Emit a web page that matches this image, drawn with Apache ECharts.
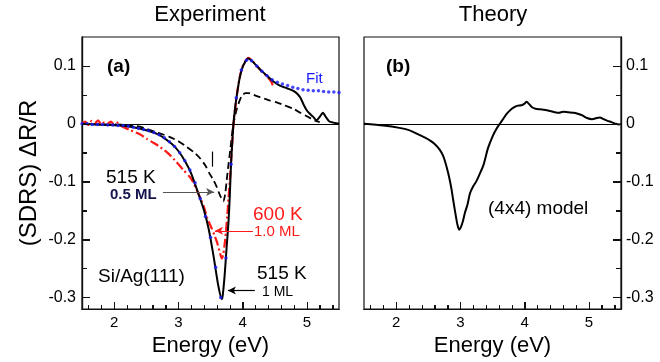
<!DOCTYPE html>
<html><head><meta charset="utf-8">
<script src="https://cdn.jsdelivr.net/npm/echarts@6/dist/echarts.min.js"></script>
<style>html,body{margin:0;padding:0;background:#fff}#c{width:660px;height:362px}</style>
</head><body><div id="c"></div>
<script>
// ---- tick values ----
const xMajorTicks = [2, 3, 4, 5];
const xMinorTicks = [1.6,1.8,2.0,2.2,2.4,2.6,2.8,3.0,3.2,3.4,3.6,3.8,4.0,4.2,4.4,4.6,4.8,5.0,5.2,5.4];
const yMajorTicks = [-0.3, -0.2, -0.1, 0, 0.1];
const yMinorTicks = [-0.25, -0.15, -0.05, 0.05];

// ---- Experiment: 515 K, 1 ML (solid) ----
const e515_1ML = [1.5,1.7,1.9,2.1,2.3,2.5,2.7,2.9,3.0,3.1,3.2,3.3,3.4,3.47,3.545,3.62,3.676,3.69,3.72,3.75,3.78,3.80,3.82,3.84,3.857,3.88,3.91,3.95,3.99,4.04,4.09,4.15,4.22,4.3,4.38,4.48,4.58,4.7,4.79,4.85,4.9,4.95,5.0,5.05,5.1,5.15,5.2,5.25,5.3,5.35,5.42,5.5];
const r515_1ML = [0,-0.001,-0.002,-0.003,-0.006,-0.011,-0.019,-0.035,-0.047,-0.064,-0.086,-0.117,-0.150,-0.181,-0.227,-0.279,-0.303,-0.297,-0.262,-0.215,-0.17,-0.125,-0.068,-0.03,0,0.025,0.049,0.077,0.095,0.107,0.113,0.108,0.1,0.091,0.083,0.073,0.066,0.061,0.057,0.052,0.045,0.033,0.023,0.017,0.012,0.006,0.012,0.019,0.011,0.004,0.002,0];

// ---- Experiment: 515 K, 0.5 ML (dashed) ----
const e515_05ML = [1.5,1.8,2.0,2.2,2.4,2.51,2.7,2.87,3.0,3.13,3.25,3.34,3.42,3.49,3.545,3.6,3.65,3.70,3.73,3.75,3.78,3.81,3.85,3.91,3.99,4.05,4.09,4.17,4.27,4.4,4.53,4.65,4.79,4.9,5.0,5.12,5.2];
const r515_05ML = [0,-0.001,-0.001,-0.002,-0.005,-0.009,-0.016,-0.023,-0.03,-0.04,-0.05,-0.06,-0.072,-0.087,-0.097,-0.11,-0.124,-0.134,-0.12,-0.1,-0.07,-0.043,-0.005,0.026,0.049,0.053,0.053,0.05,0.046,0.041,0.037,0.032,0.026,0.019,0.013,0.006,0.003];

// ---- Experiment: 600 K, 1.0 ML (dash-dot, red) ----
const e600 = [1.5,1.55,1.6,1.65,1.7,1.75,1.8,1.85,1.9,1.95,2.0,2.05,2.1,2.15,2.25,2.4,2.51,2.6,2.715,2.85,2.97,3.08,3.18,3.23,3.3,3.39,3.45,3.52,3.56,3.60,3.64,3.676,3.70,3.73,3.76,3.78,3.80,3.82,3.845,3.86,3.91,3.95,3.99,4.04,4.09,4.15,4.22,4.3,4.38,4.45,4.48];
const r600 = [0.001,0.004,-0.002,0.005,0.001,0.006,-0.001,0.003,0.001,0.004,-0.002,0.002,-0.003,-0.006,-0.011,-0.018,-0.026,-0.032,-0.04,-0.052,-0.066,-0.08,-0.092,-0.101,-0.118,-0.141,-0.163,-0.181,-0.192,-0.204,-0.22,-0.233,-0.225,-0.199,-0.16,-0.13,-0.1,-0.066,-0.02,0.002,0.05,0.078,0.096,0.108,0.114,0.109,0.1,0.09,0.082,0.072,0.062];

// ---- Fit (blue dots) ----
const eFit = [1.50,1.58,1.66,1.74,1.82,1.90,1.98,2.06,2.14,2.22,2.30,2.38,2.46,2.54,2.62,2.70,2.78,2.86,2.94,3.02,3.10,3.18,3.26,3.34,3.42,3.50,3.58,3.66,3.74,3.82,3.90,3.98,4.06,4.14,4.22,4.30,4.38,4.46,4.54,4.62,4.70,4.78,4.86,4.94,5.02,5.10,5.18,5.26,5.34,5.42,5.50];
const rFit = [0,0,-0.001,-0.001,-0.001,-0.002,-0.002,-0.003,-0.003,-0.004,-0.006,-0.008,-0.010,-0.012,-0.015,-0.019,-0.024,-0.031,-0.039,-0.050,-0.064,-0.080,-0.102,-0.129,-0.160,-0.196,-0.248,-0.300,-0.232,-0.070,0.045,0.093,0.110,0.109,0.100,0.091,0.083,0.076,0.072,0.069,0.066,0.063,0.061,0.059,0.058,0.057,0.057,0.056,0.055,0.055,0.054];

// ---- Theory: (4x4) model ----
const eTh = [1.5,1.8,2.05,2.2,2.32,2.45,2.53,2.6,2.68,2.73,2.77,2.81,2.84,2.865,2.89,2.92,2.95,2.98,3.01,3.04,3.07,3.11,3.15,3.2,3.25,3.3,3.36,3.43,3.5,3.56,3.62,3.67,3.72,3.8,3.88,3.95,4.0,4.03,4.07,4.11,4.17,4.24,4.32,4.4,4.47,4.53,4.6,4.68,4.77,4.84,4.9,4.97,5.05,5.12,5.17,5.23,5.29,5.35,5.42,5.47,5.5];
const rTh = [0,-0.003,-0.007,-0.011,-0.017,-0.024,-0.029,-0.035,-0.045,-0.055,-0.068,-0.085,-0.1,-0.115,-0.133,-0.153,-0.172,-0.183,-0.178,-0.168,-0.154,-0.14,-0.12,-0.108,-0.099,-0.087,-0.071,-0.042,-0.022,-0.009,0.001,0.009,0.017,0.026,0.031,0.032,0.035,0.038,0.034,0.029,0.026,0.025,0.024,0.022,0.02,0.019,0.021,0.02,0.019,0.017,0.0145,0.01,0.008,0.01,0.011,0.008,0.005,0.003,0,-0.001,0];

// ---- annotation anchors (data coords) ----
const arrow05 = [[2.76, -0.118], [3.556, -0.118]];
const arrow600 = [[4.16, -0.185], [3.57, -0.185]];
const arrow1ML = [[4.19, -0.288], [3.77, -0.288]];
const markerBar = [[3.525, -0.048], [3.525, -0.074]];

const X_MIN = 1.5, X_MAX = 5.5, Y_MIN = -0.32, Y_MAX = 0.15;
const zip = (a, b) => a.map((v, i) => [v, b[i]]);
const FONT = "'Liberation Sans', Arial, Helvetica, sans-serif";
const fmtY = v => (Math.abs(v) < 1e-9 ? '0' : v.toFixed(1));
const axLine = () => ({ show: true, onZero: false, lineStyle: { color: '#111', width: 1.2 } });
const tick = (len, values) => ({ show: true, inside: true, length: len, customValues: values, lineStyle: { color: '#111', width: 1 } });

function xAxes(gi) {
  return [
    { gridIndex: gi, type: 'value', position: 'bottom', min: X_MIN, max: X_MAX, axisLine: axLine(), splitLine: { show: false },
      axisLabel: { show: false }, axisTick: tick(4, xMinorTicks) },
    { gridIndex: gi, type: 'value', position: 'bottom', min: X_MIN, max: X_MAX, axisLine: axLine(), splitLine: { show: false },
      axisTick: tick(7, xMajorTicks),
      axisLabel: { customValues: xMajorTicks, color: '#000', fontSize: 15, fontFamily: FONT, margin: 6 },
      name: 'Energy (eV)', nameLocation: 'middle', nameGap: 22,
      nameTextStyle: { fontSize: 22, fontFamily: FONT, color: '#000' } }
  ];
}
function yAxes(gi, pos, withName) {
  const main = { gridIndex: gi, type: 'value', position: pos, min: Y_MIN, max: Y_MAX, axisLine: axLine(), splitLine: { show: false },
      axisTick: tick(8, yMajorTicks),
      axisLabel: { customValues: yMajorTicks, formatter: fmtY, color: '#000', fontSize: 16, fontFamily: FONT, margin: pos === 'left' ? 6 : 5 } };
  if (withName) {
    Object.assign(main, { name: '(SDRS) ΔR/R', nameLocation: 'middle', nameGap: 41, nameRotate: 90,
      nameTextStyle: { fontSize: 24, fontFamily: FONT, color: '#000' } });
  }
  return [main,
    { gridIndex: gi, type: 'value', position: pos, min: Y_MIN, max: Y_MAX, axisLine: axLine(), splitLine: { show: false },
      axisLabel: { show: false }, axisTick: tick(5, yMinorTicks) }];
}

const zeroLine = () => ({ silent: true, symbol: 'none', label: { show: false },
  lineStyle: { color: '#000', width: 1, type: 'solid' }, data: [{ yAxis: 0 }] });

function seg(p, color, arrow) {
  return [{ coord: p[0], symbol: 'none', lineStyle: { color, width: 1.2, type: 'solid' } },
          { coord: p[1], symbol: arrow ? 'arrow' : 'none', symbolSize: [6, 8] }];
}

function txt(text, x, y, size, color, bold, align) {
  return { type: 'text', x, y, z: 100, style: { text, x: 0, y: 0, fill: color || '#000',
    font: (bold ? 'bold ' : '') + size + 'px ' + FONT, textAlign: align || 'left', align: align || 'left',
    textVerticalAlign: 'middle', verticalAlign: 'middle' } };
}

const texts = [
  txt('Experiment', 210, 15, 22, '#000', false, 'center'),
  txt('Theory', 493, 15, 22, '#000', false, 'center'),
  txt('(a)', 107, 67, 19, '#000', true),
  txt('Fit', 306, 79, 15, '#1a1aff'),
  txt('515 K', 106, 178, 19, '#000'),
  txt('0.5 ML', 110, 195, 15, '#15154d', true),
  txt('600 K', 253, 215, 19, '#ff1a1a'),
  txt('1.0 ML', 254, 232, 15, '#ff1a1a'),
  txt('Si/Ag(111)', 98, 277, 19, '#000'),
  txt('515 K', 257, 273.5, 19, '#000'),
  txt('1 ML', 262, 292, 14, '#000'),
  txt('(b)', 386, 67, 19, '#000', true),
  txt('(4x4) model', 488, 209, 19, '#000')
];

const chart = echarts.init(document.getElementById('c'));
chart.setOption({
  animation: false,
  grid: [
    { left: 82, top: 37, width: 257, height: 272, outerBoundsMode: 'none', show: true, borderColor: '#111', borderWidth: 1.2 },
    { left: 364, top: 37, width: 257, height: 272, outerBoundsMode: 'none', show: true, borderColor: '#111', borderWidth: 1.2 }
  ],
  xAxis: [...xAxes(0), ...xAxes(1)],
  yAxis: [...yAxes(0, 'left', true), ...yAxes(1, 'right', false)],
  series: [
    { type: 'line', xAxisIndex: 1, yAxisIndex: 0, data: zip(e515_05ML, r515_05ML), showSymbol: false, smooth: 0.25,
      lineStyle: { color: '#000', width: 1.8, type: [7, 4] }, z: 2 },
    { type: 'line', xAxisIndex: 1, yAxisIndex: 0, data: zip(e600, r600), showSymbol: false, smooth: 0.2,
      lineStyle: { color: '#ff1a1a', width: 2.2, type: [9, 3, 2, 3] }, z: 3 },
    { type: 'line', xAxisIndex: 1, yAxisIndex: 0, data: zip(e515_1ML, r515_1ML), showSymbol: false, smooth: 0.2,
      lineStyle: { color: '#000', width: 2 }, z: 4,
      markLine: Object.assign(zeroLine(), {
        data: [{ yAxis: 0 }, seg(arrow05, '#555', true), seg(arrow600, '#ff1a1a', true), seg(arrow1ML, '#000', true), seg(markerBar, '#000', false)] }) },
    { type: 'scatter', xAxisIndex: 1, yAxisIndex: 0, data: zip(eFit, rFit), symbol: 'circle', symbolSize: 3.5,
      itemStyle: { color: '#1a1aff' }, z: 5 },
    { type: 'line', xAxisIndex: 3, yAxisIndex: 2, data: zip(eTh, rTh), showSymbol: false, smooth: 0.25,
      lineStyle: { color: '#000', width: 2 }, z: 4, markLine: zeroLine() }
  ]
});

// Tick marks placed through the axes' own scales (fallback in case axis ticks are not drawn)
const tickLines = [];
const addLine = (x1, y1, x2, y2) => tickLines.push({ type: 'line', silent: true, z: 50,
  shape: { x1, y1, x2, y2 }, style: { stroke: '#111', lineWidth: 1 } });
[[1, 0], [3, 2]].forEach(([xi, yi], g) => {
  const yBottom = chart.convertToPixel({ yAxisIndex: yi }, Y_MIN);
  const xLeft = chart.convertToPixel({ xAxisIndex: xi }, X_MIN);
  const xRight = chart.convertToPixel({ xAxisIndex: xi }, X_MAX);
  xMinorTicks.forEach(v => { const px = Math.round(chart.convertToPixel({ xAxisIndex: xi }, v)) + 0.5; addLine(px, yBottom, px, yBottom - 4); });
  xMajorTicks.forEach(v => { const px = Math.round(chart.convertToPixel({ xAxisIndex: xi }, v)) + 0.5; addLine(px, yBottom, px, yBottom - 7); });
  const yTick = (v, len) => {
    const py = Math.round(chart.convertToPixel({ yAxisIndex: yi }, v)) + 0.5;
    if (g === 0) addLine(xLeft, py, xLeft + len, py); else addLine(xRight - len, py, xRight, py);
  };
  yMajorTicks.forEach(v => yTick(v, 8));
  yMinorTicks.forEach(v => yTick(v, 5));
});
chart.setOption({ graphic: [...texts, ...tickLines] });
</script>
</body></html>
